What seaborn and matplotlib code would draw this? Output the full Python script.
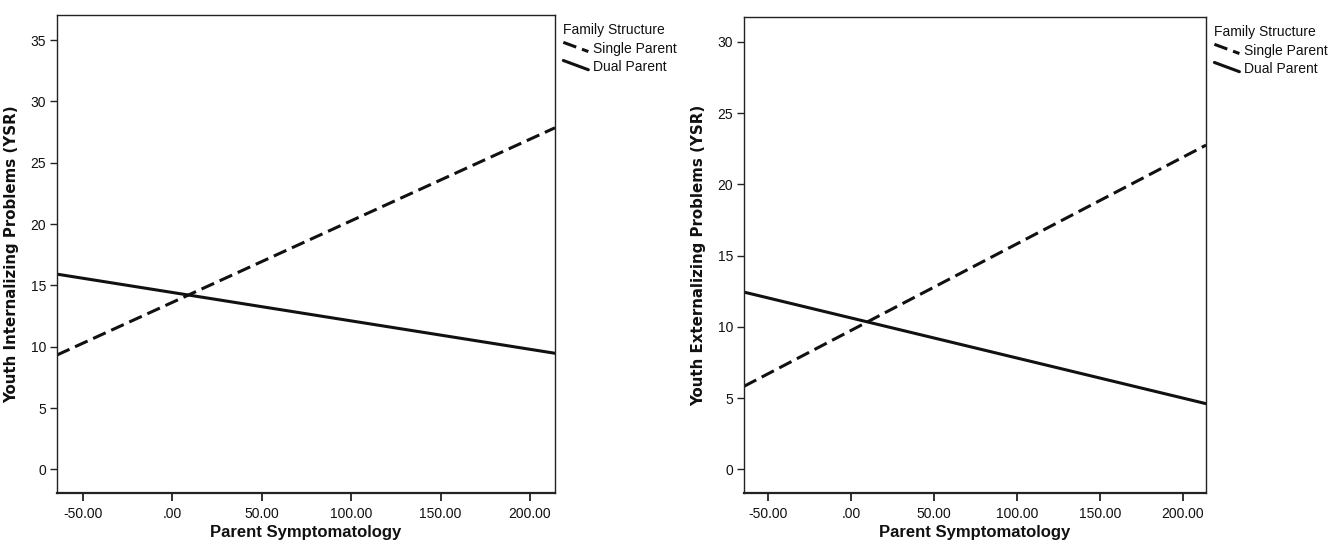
import numpy as np
import pandas as pd
import matplotlib
matplotlib.use("Agg")
import matplotlib.pyplot as plt
from matplotlib.lines import Line2D
from matplotlib.legend_handler import HandlerLine2D
import seaborn as sns

# values (endpoints of the fitted lines)
parent_symptoms = [-64.4, 214.0]
internal_single = [9.33, 27.85]
internal_dual = [15.92, 9.47]
external_single = [5.83, 22.76]
external_dual = [12.44, 4.61]

groups = ["Single Parent", "Dual Parent"]
x_ticks = [-50, 0, 50, 100, 150, 200]
x_ticklabels = ["-50.00", ".00", "50.00", "100.00", "150.00", "200.00"]


def make_df(single, dual):
    rows = []
    for g, ys in zip(groups, [single, dual]):
        for x, y in zip(parent_symptoms, ys):
            rows.append({"Parent Symptomatology": x, "y": y, "Family Structure": g})
    return pd.DataFrame(rows)


class SlantHandler(HandlerLine2D):
    # SPSS draws the legend keys as short slanted strokes
    def create_artists(self, legend, orig_handle, xdescent, ydescent,
                       width, height, fontsize, trans):
        artists = super().create_artists(legend, orig_handle, xdescent, ydescent,
                                         width, height, fontsize, trans)
        line = artists[0]
        n = len(line.get_xdata())
        line.set_ydata(np.linspace(height * 1.05, height * 0.1, n))
        return artists


sns.set_theme(style="white")
plt.rcParams["font.family"] = ["Liberation Sans", "DejaVu Sans"]

fig = plt.figure(figsize=(13.38, 5.45), dpi=100)
ax1 = fig.add_axes([0.0426, 0.0954, 0.3722, 0.8770])
ax2 = fig.add_axes([0.5561, 0.0954, 0.3453, 0.8734])

panels = [
    (ax1, make_df(internal_single, internal_dual), "Youth Internalizing Problems (YSR)",
     (-1.92, 37.04), [0, 5, 10, 15, 20, 25, 30, 35]),
    (ax2, make_df(external_single, external_dual), "Youth Externalizing Problems (YSR)",
     (-1.66, 31.75), [0, 5, 10, 15, 20, 25, 30]),
]

for ax, df, ylab, ylim, yticks in panels:
    sns.lineplot(
        data=df, x="Parent Symptomatology", y="y",
        hue="Family Structure", style="Family Structure",
        palette=["#111111", "#111111"],
        dashes={"Single Parent": (4.5, 2), "Dual Parent": ""},
        linewidth=2.2, ax=ax,
    )
    ax.set_xlim(parent_symptoms[0], parent_symptoms[1])
    ax.set_ylim(*ylim)
    ax.set_xticks(x_ticks)
    ax.set_xticklabels(x_ticklabels)
    ax.set_yticks(yticks)
    ax.tick_params(axis="x", direction="out", length=6, width=1.3, color="#222222",
                   labelsize=10, pad=4, bottom=True, labelcolor="#111111")
    ax.tick_params(axis="y", direction="out", length=5, width=1.0, color="#222222",
                   labelsize=10, pad=3, left=True, labelcolor="#111111")
    ax.set_xlabel("Parent Symptomatology", fontsize=12, fontweight="bold",
                  labelpad=3, color="#111111")
    ax.set_ylabel(ylab, fontsize=10.8, fontweight="bold", family="DejaVu Sans",
                  labelpad=8, color="#111111")
    for s in ax.spines.values():
        s.set_color("#222222")
        s.set_linewidth(1.0)
    ax.spines["bottom"].set_linewidth(1.6)

    handles, labels = ax.get_legend_handles_labels()
    leg = ax.legend(handles, labels, title="Family Structure", loc="upper left",
                    bbox_to_anchor=(1.0, 1.0), frameon=False,
                    fontsize=10, title_fontsize=10,
                    handlelength=1.8, handletextpad=0.3, labelspacing=0.3,
                    borderpad=0.4, borderaxespad=0.2,
                    handler_map={Line2D: SlantHandler()})
    leg._legend_box.align = "left"
    for t in leg.get_texts():
        t.set_color("#111111")
    leg.get_title().set_color("#111111")

fig.savefig("out.png", dpi=100, facecolor="white")
